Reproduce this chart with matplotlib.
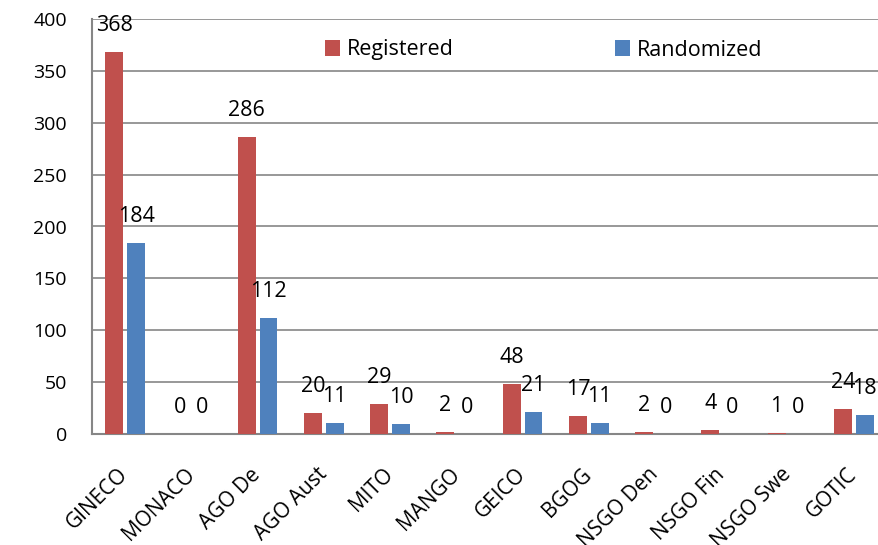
import numpy as np
import matplotlib
matplotlib.use("Agg")
import matplotlib.pyplot as plt

# ---------------------------
# DATA
# ---------------------------
groups = ["GINECO", "MONACO", "AGO De", "AGO Aust", "MITO", "MANGO",
          "GEICO", "BGOG", "NSGO Den", "NSGO Fin", "NSGO Swe", "GOTIC"]
registered = [368, 0, 286, 20, 29, 2, 48, 17, 2, 4, 1, 24]
randomized = [184, 0, 112, 11, 10, 0, 21, 11, 0, 0, 0, 18]
yticks = [0, 50, 100, 150, 200, 250, 300, 350, 400]

RED = "#C0504D"
BLUE = "#4F81BD"
GRID = "#868686"

plt.rcParams["font.family"] = ["Open Sans", "DejaVu Sans"]
FS_TICK = 14
FS = 15.5

# ---------------------------
# FIGURE
# ---------------------------
fig = plt.figure(figsize=(8.79, 5.45), dpi=100)
ax = fig.add_axes([92 / 879, 111 / 545, 787 / 879, 415 / 545])

x = np.arange(len(groups))
w = 0.27
off = 0.165
b1 = ax.bar(x - off, registered, w, color=RED, label="Registered", zorder=3)
b2 = ax.bar(x + off, randomized, w, color=BLUE, label="Randomized", zorder=3)

for bars, vals in ((b1, registered), (b2, randomized)):
    for rect, v in zip(bars, vals):
        ax.annotate(str(v), (rect.get_x() + rect.get_width() / 2, v),
                    xytext=(0, 19), textcoords="offset points",
                    ha="center", va="center", fontsize=FS, zorder=4)

ax.set_xlim(-0.5, 11.38)
ax.set_ylim(0, 400)
ax.set_yticks(yticks)
ax.set_xticks(x)
ax.set_xticklabels(groups, rotation=45, ha="right", va="center",
                   rotation_mode="anchor", fontsize=15)
ax.tick_params(axis="y", length=0, pad=18, labelsize=FS_TICK)
ax.tick_params(axis="x", length=0, pad=27)

ax.grid(axis="y", color=GRID, linewidth=1.2, zorder=0)
for s in ("top", "right"):
    ax.spines[s].set_visible(False)
for s in ("left", "bottom"):
    ax.spines[s].set_color(GRID)
    ax.spines[s].set_linewidth(1.5)

fig.legend(loc="center left", bbox_to_anchor=(325 / 879, 1 - 50 / 545), ncol=2,
           frameon=False, fontsize=FS, borderpad=0, borderaxespad=0,
           handlelength=0.7, handleheight=0.7,
           handletextpad=0.3, columnspacing=7.5)

fig.savefig("out.png", dpi=100)
